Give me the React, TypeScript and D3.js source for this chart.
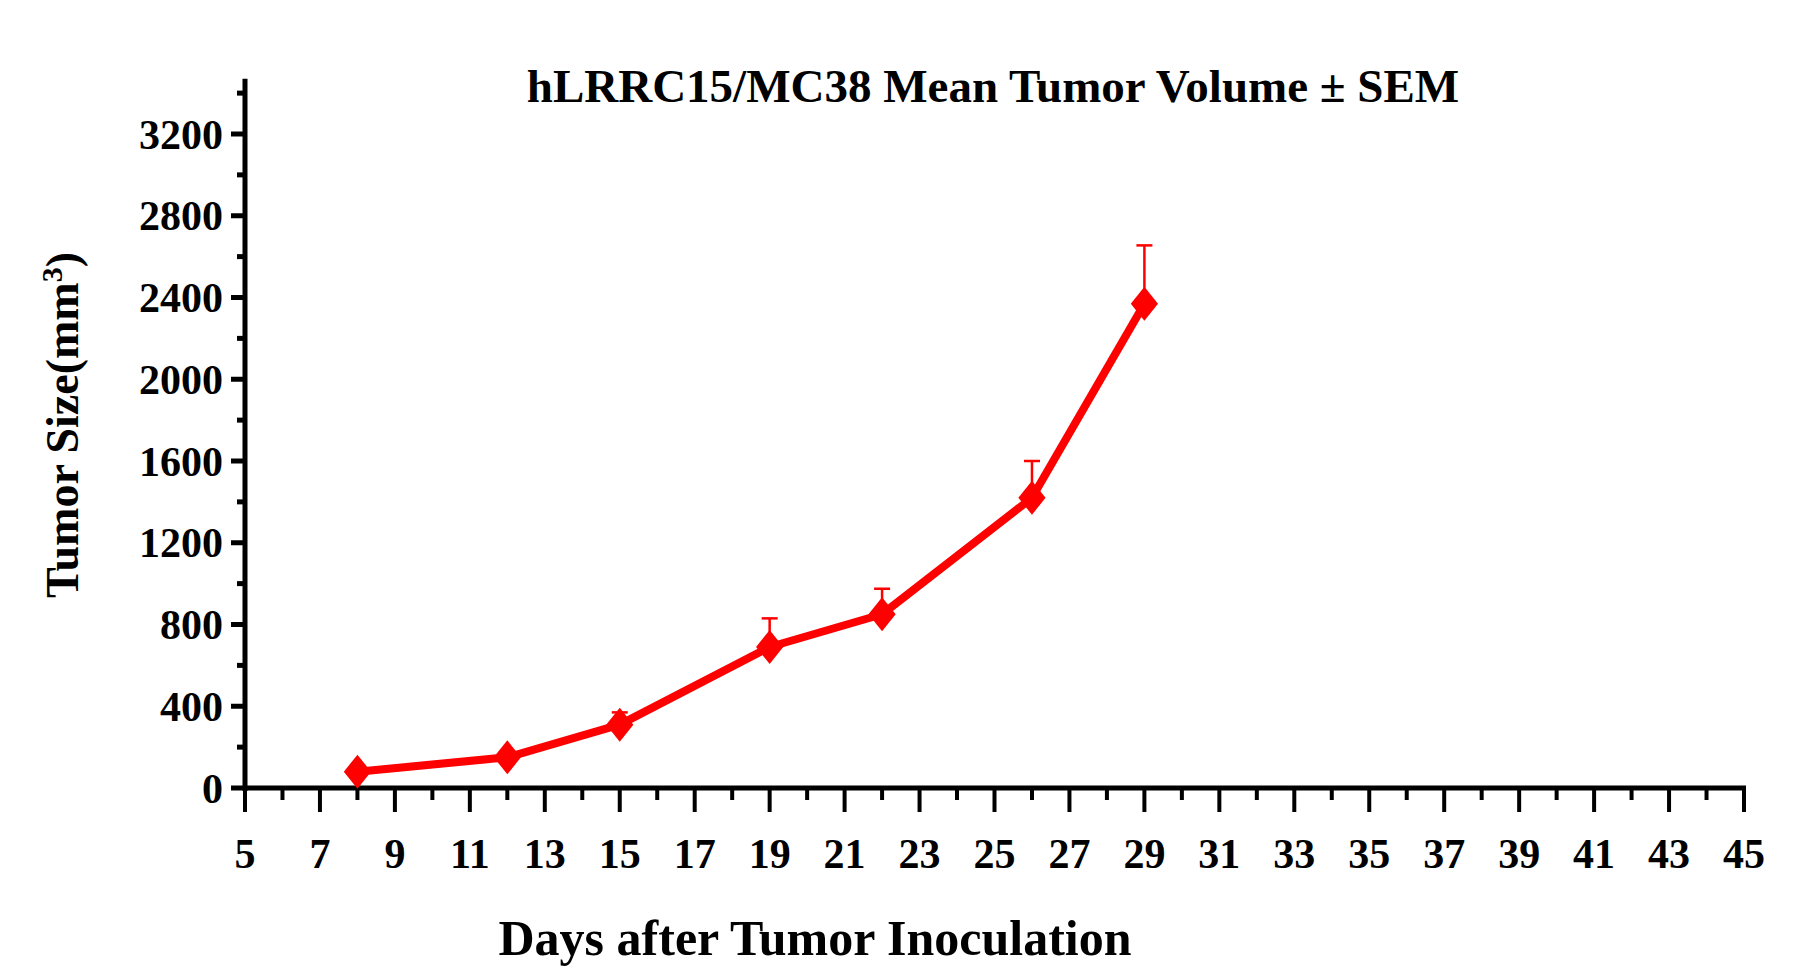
import * as d3 from 'd3';

const days = [8, 12, 15, 19, 22, 26, 29];
const means = [80, 150, 310, 690, 850, 1420, 2370];
const upper = [95, 175, 370, 830, 975, 1600, 2655];
const xTicks = d3.range(5, 46, 2);
const yTicks = d3.range(0, 3201, 400);

export default function App() {
  const W = 1802, H = 978;
  const x = d3.scaleLinear().domain([5, 45]).range([245, 1744]);
  const y = d3.scaleLinear().domain([0, 3200]).range([788, 134]);
  const yTop = y(3470);
  const line = d3.line<number>().x((_, i) => x(days[i])).y(d => y(d));
  const font = '"Liberation Serif", "Times New Roman", serif';
  const red = '#ff0000';
  const diamond = (cx: number, cy: number) => {
    const r = 17;
    return `M${cx},${cy - r}L${cx + r * 0.8},${cy}L${cx},${cy + r}L${cx - r * 0.8},${cy}Z`;
  };
  return (
    <svg width={W} height={H} style={{ display: 'block', margin: -8 }} fontFamily={font} fontWeight="bold">
      <rect width={W} height={H} fill="white" />
      <text x={993} y={102} textAnchor="middle" fontSize={47}>hLRRC15/MC38 Mean Tumor Volume ± SEM</text>
      {/* y axis */}
      <line x1={x(5)} x2={x(5)} y1={yTop} y2={y(0) + 3} stroke="black" strokeWidth={5} />
      {d3.range(200, 3500, 200).map(v => (
        <line key={v} x1={x(5)} x2={x(5) - (v % 400 === 0 ? 14 : 8)} y1={y(v)} y2={y(v)} stroke="black" strokeWidth={5} />
      ))}
      {yTicks.map(v => (
        <text key={v} x={x(5) - 22} y={y(v)} dy="0.35em" textAnchor="end" fontSize={42}>{v}</text>
      ))}
      {/* x axis */}
      <line x1={x(5) - 14} x2={x(45) + 2} y1={y(0)} y2={y(0)} stroke="black" strokeWidth={5} />
      {d3.range(5, 46, 1).map(d => (
        <line key={d} x1={x(d)} x2={x(d)} y1={y(0)} y2={y(0) + (d % 2 === 1 ? 24 : 12)} stroke="black" strokeWidth={4} />
      ))}
      {xTicks.map(d => (
        <text key={d} x={x(d)} y={868} textAnchor="middle" fontSize={42}>{d}</text>
      ))}
      <text x={x(5) + 570} y={955} textAnchor="middle" fontSize={50}>Days after Tumor Inoculation</text>
      <text transform="translate(78,425) rotate(-90)" textAnchor="middle" fontSize={46}>
        Tumor Size(mm<tspan dy={-16} fontSize={30}>3</tspan><tspan dy={16}>)</tspan>
      </text>
      {/* error bars */}
      {days.map((d, i) => (
        <g key={d} stroke={red} strokeWidth={2.5}>
          <line x1={x(d)} x2={x(d)} y1={y(means[i])} y2={y(upper[i])} />
          <line x1={x(d) - 8} x2={x(d) + 8} y1={y(upper[i])} y2={y(upper[i])} />
        </g>
      ))}
      <path d={line(means) ?? ''} fill="none" stroke={red} strokeWidth={8} strokeLinejoin="round" />
      {days.map((d, i) => (
        <path key={d} d={diamond(x(d), y(means[i]))} fill={red} />
      ))}
    </svg>
  );
}
